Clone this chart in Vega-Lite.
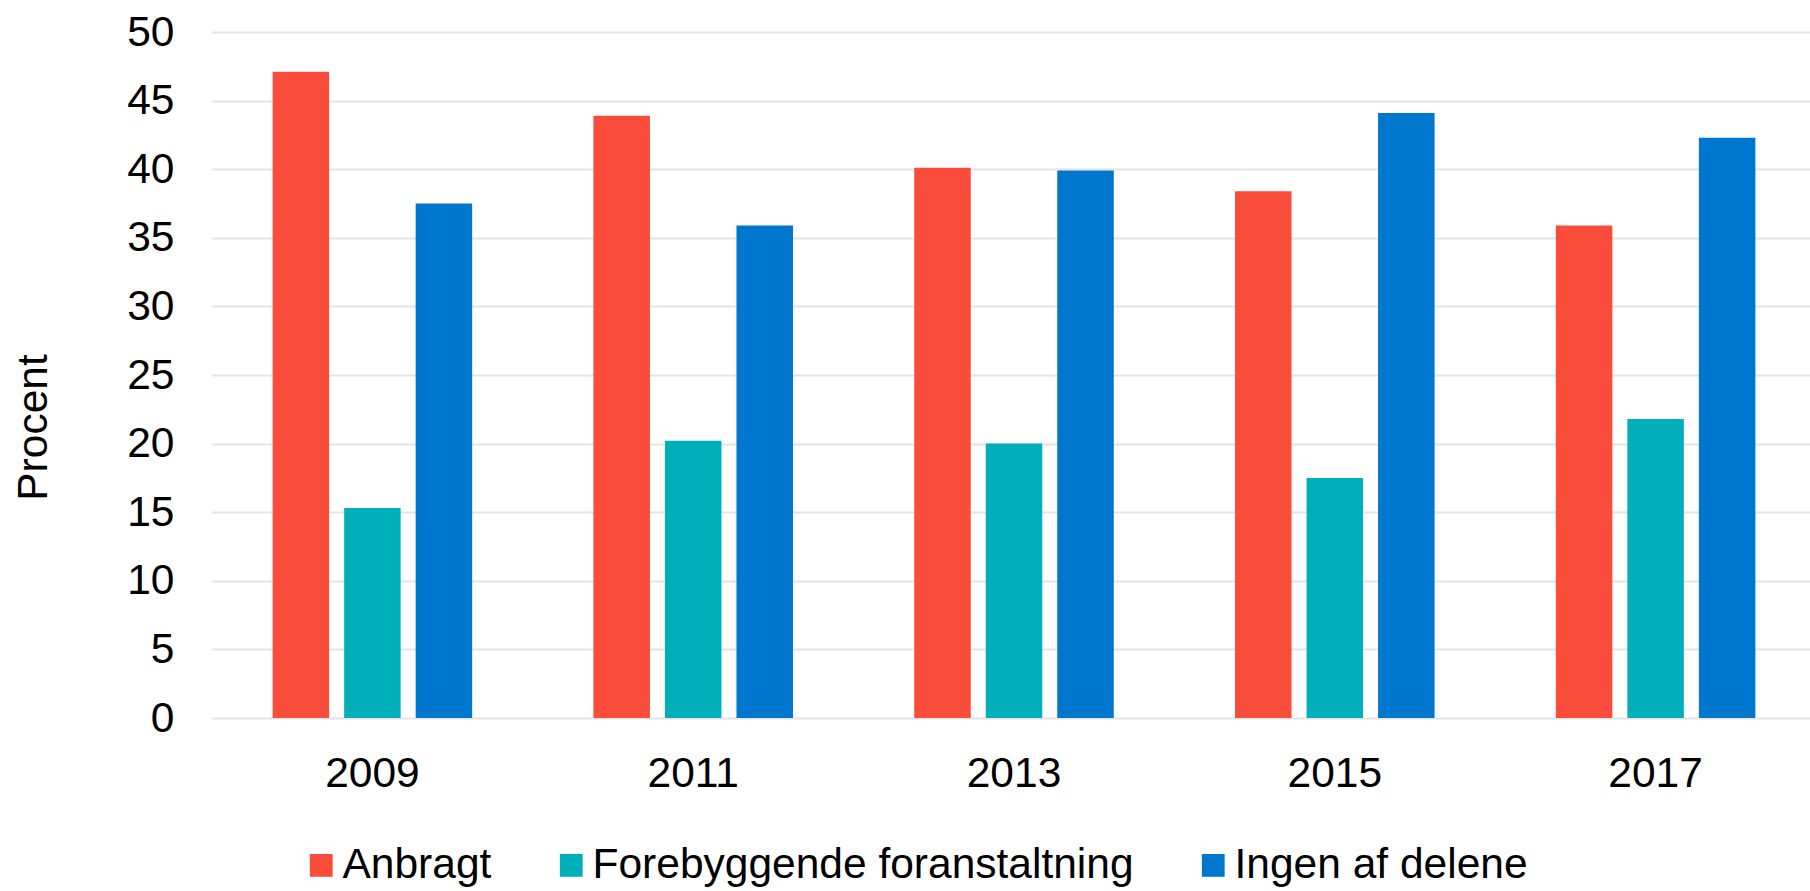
{
  "$schema": "https://vega.github.io/schema/vega-lite/v6.json",
  "autosize": {"type": "none"},
  "padding": {"left": 212, "top": 32, "right": 0, "bottom": 173},
  "width": 1604,
  "height": 686,
  "background": "white",
  "config": {
    "font": "Liberation Sans",
    "view": {"stroke": null},
    "axis": {"labelColor": "#000000", "titleColor": "#000000", "labelFont": "Liberation Sans", "titleFont": "Liberation Sans"}
  },
  "data": {
    "values": [
      {"year": "2009", "group": "Anbragt", "value": 47.1},
      {"year": "2009", "group": "Forebyggende foranstaltning", "value": 15.3},
      {"year": "2009", "group": "Ingen af delene", "value": 37.5},
      {"year": "2011", "group": "Anbragt", "value": 43.9},
      {"year": "2011", "group": "Forebyggende foranstaltning", "value": 20.2},
      {"year": "2011", "group": "Ingen af delene", "value": 35.9},
      {"year": "2013", "group": "Anbragt", "value": 40.1},
      {"year": "2013", "group": "Forebyggende foranstaltning", "value": 20.0},
      {"year": "2013", "group": "Ingen af delene", "value": 39.9},
      {"year": "2015", "group": "Anbragt", "value": 38.4},
      {"year": "2015", "group": "Forebyggende foranstaltning", "value": 17.5},
      {"year": "2015", "group": "Ingen af delene", "value": 44.1},
      {"year": "2017", "group": "Anbragt", "value": 35.9},
      {"year": "2017", "group": "Forebyggende foranstaltning", "value": 21.8},
      {"year": "2017", "group": "Ingen af delene", "value": 42.3}
    ]
  },
  "mark": {"type": "bar"},
  "encoding": {
    "x": {
      "field": "year", "type": "nominal",
      "scale": {"paddingInner": 0.378, "paddingOuter": 0.189},
      "axis": {"title": null, "labelAngle": 0, "labelFontSize": 42.5, "ticks": false, "domain": false, "labelPadding": 34}
    },
    "xOffset": {
      "field": "group", "type": "nominal",
      "sort": ["Anbragt", "Forebyggende foranstaltning", "Ingen af delene"],
      "scale": {"paddingInner": 0.21, "paddingOuter": 0}
    },
    "y": {
      "field": "value", "type": "quantitative",
      "scale": {"domain": [0, 50], "nice": false},
      "axis": {
        "title": "Procent", "titleFontSize": 42.5, "titleFontWeight": "normal", "titlePadding": 71, "titleY": 395,
        "values": [0, 5, 10, 15, 20, 25, 30, 35, 40, 45, 50],
        "labelFontSize": 42.5, "labelPadding": 38, "ticks": false, "domain": false,
        "gridColor": "#e4e4e4", "gridWidth": 2
      }
    },
    "color": {
      "field": "group", "type": "nominal",
      "sort": ["Anbragt", "Forebyggende foranstaltning", "Ingen af delene"],
      "scale": {"domain": ["Anbragt", "Forebyggende foranstaltning", "Ingen af delene"], "range": ["#f94c3b", "#00afba", "#0077cf"]},
      "legend": {
        "title": null, "orient": "none", "direction": "horizontal",
        "legendX": 88, "legendY": 812,
        "symbolType": "square", "symbolSize": 520, "symbolStrokeWidth": 0,
        "labelFontSize": 42.5, "labelColor": "#000000", "labelOffset": 0,
        "columnPadding": 58, "padding": 0, "labelLimit": 0
      }
    }
  }
}
